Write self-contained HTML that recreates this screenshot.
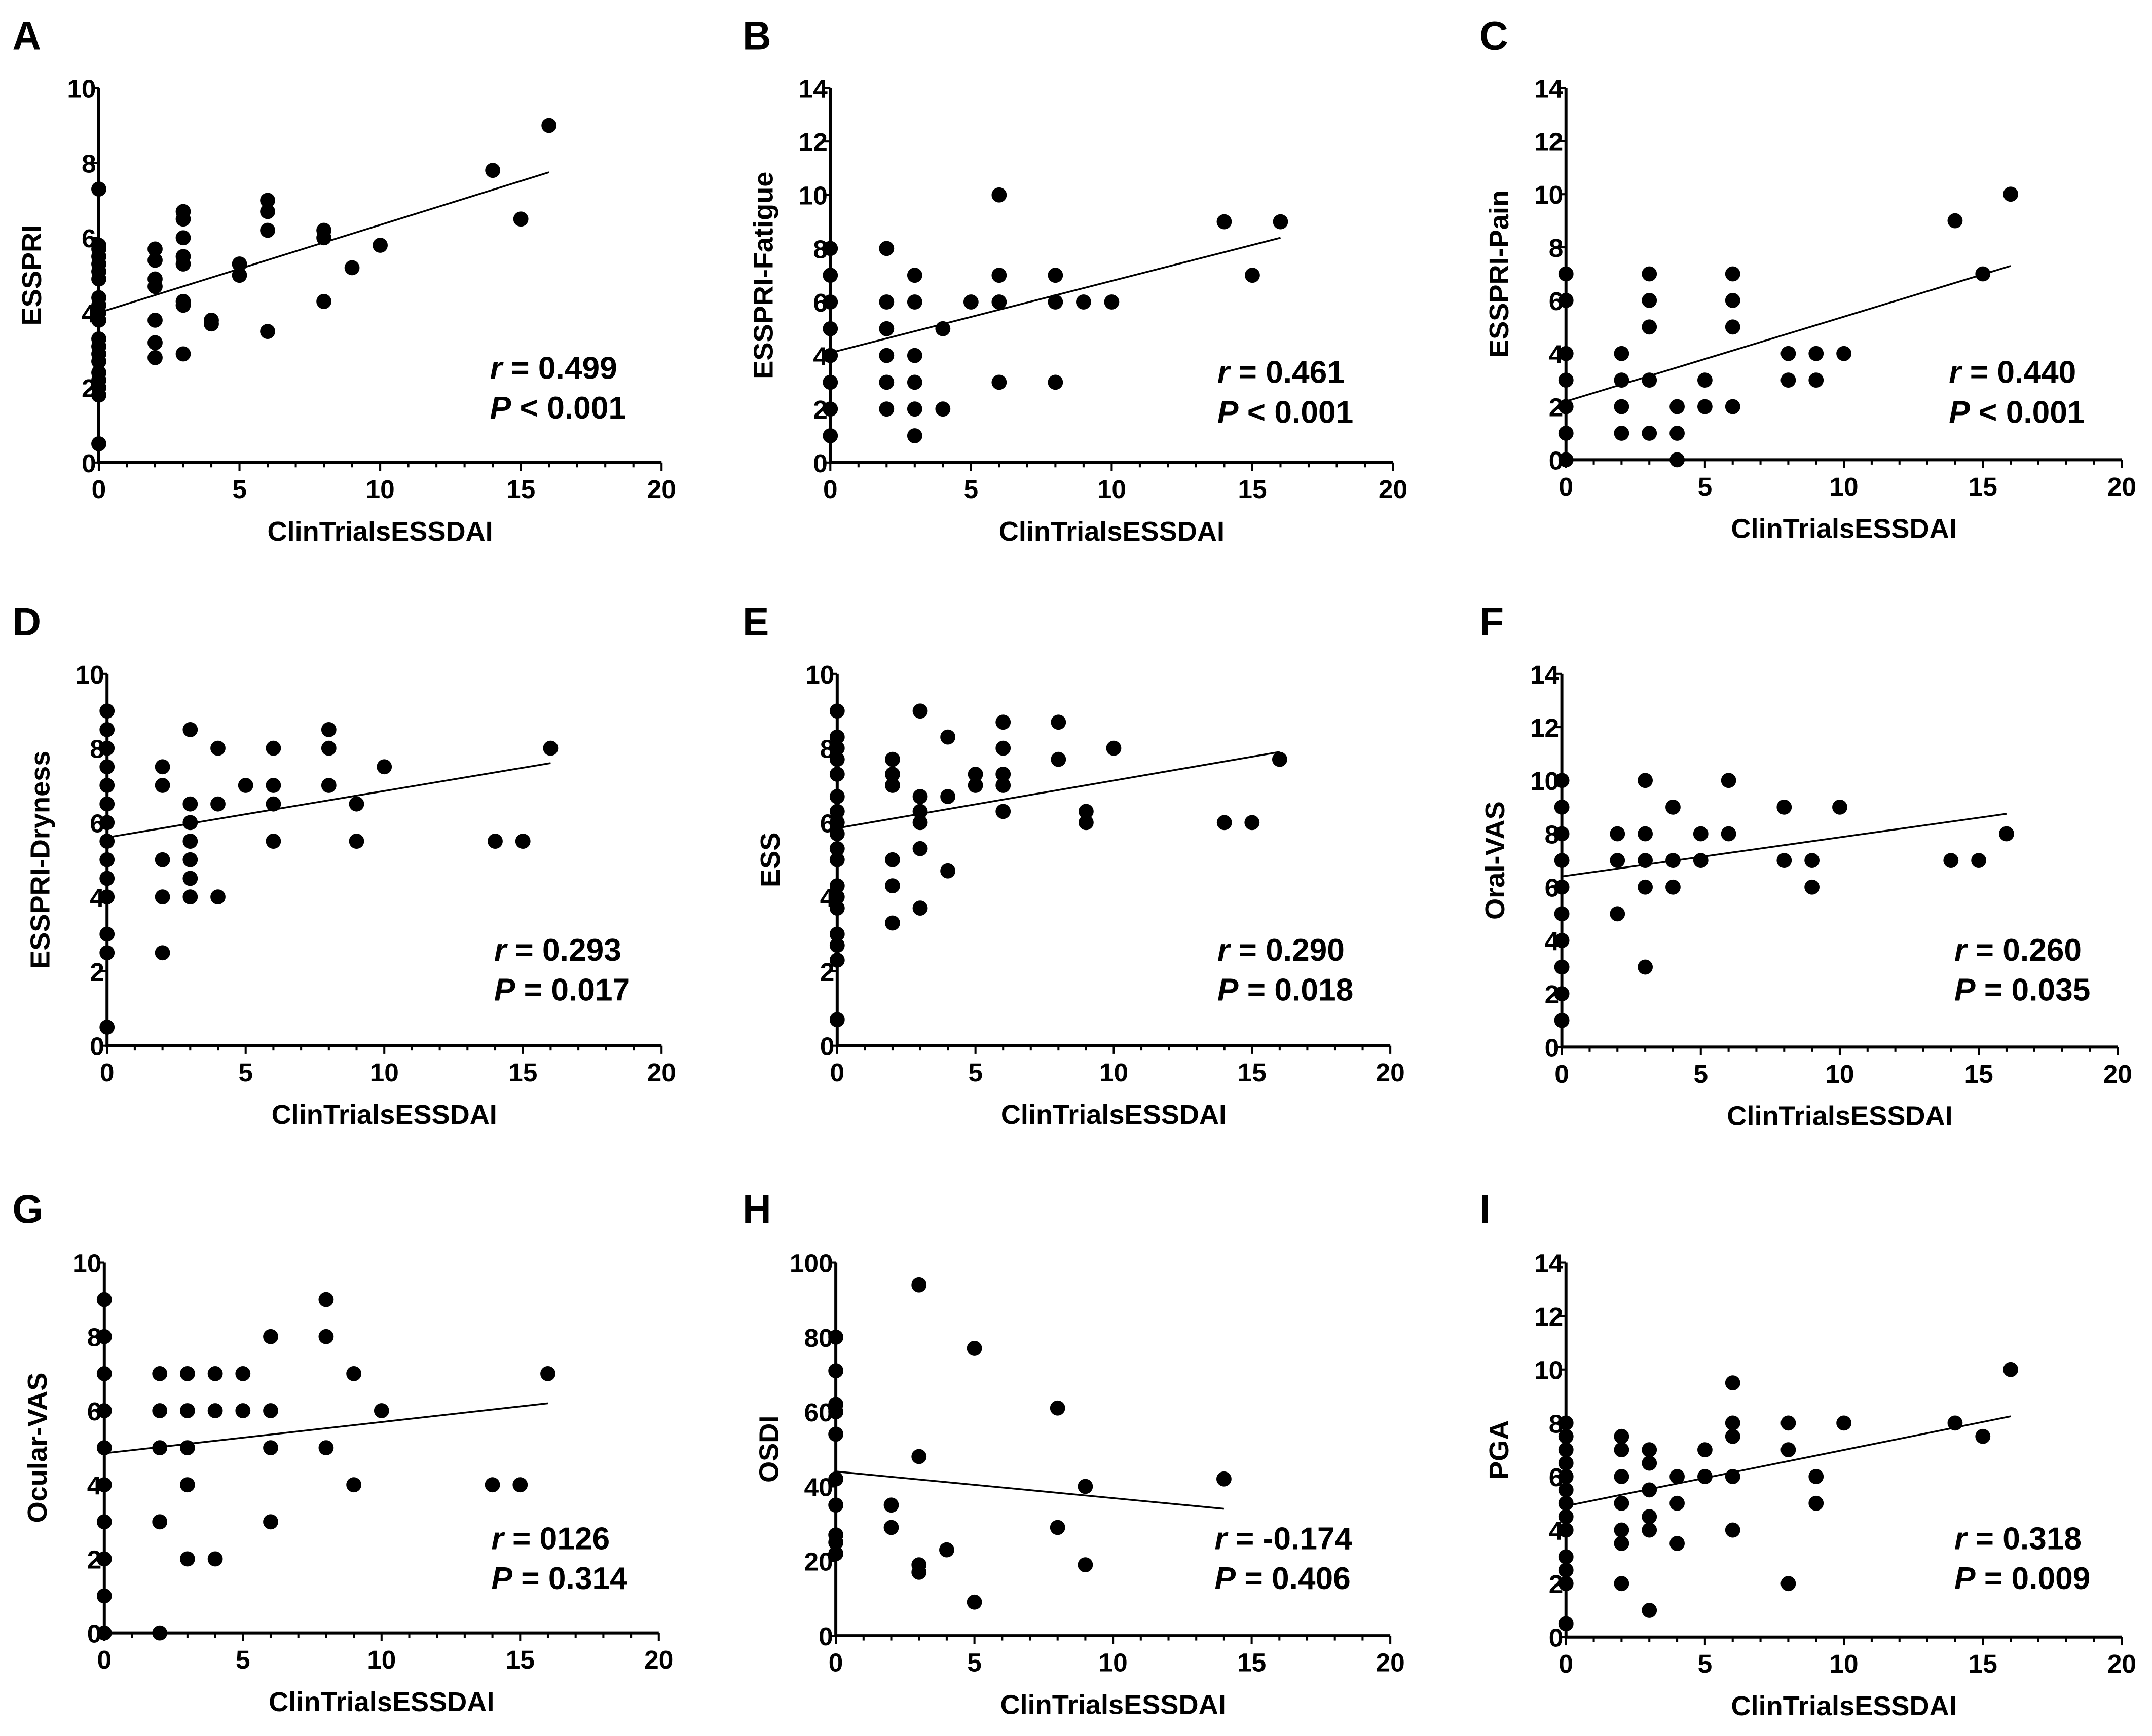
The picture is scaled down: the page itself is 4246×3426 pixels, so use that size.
<!DOCTYPE html>
<html><head><meta charset="utf-8"><style>
html,body{margin:0;padding:0;background:#fff;}
svg{display:block;}
text{font-family:"Liberation Sans",Arial,sans-serif;font-weight:bold;fill:#000;}
</style></head><body>
<svg id="fig" xmlns="http://www.w3.org/2000/svg" width="4246" height="3426" viewBox="0 0 1568 1265"></svg>
<script>
// ---- data arrays (x = ClinTrialsESSDAI) ----
const xTickLabels = [0,5,10,15,20];
const aX=[0,0,0,0,0,0,0,0,0,0,0,0,0,0,0,0,0,0,0,0,2,2,2,2,2,2,2,3,3,3,3,3,3,3,3,4,4,5,5,6,6,6,6,8,8,8,9,10,14,15,16];
const aY=[7.3,5.8,5.7,5.5,5.3,5.1,4.9,4.4,4.2,4.0,3.8,3.3,3.1,2.9,2.7,2.4,2.2,2.0,1.8,0.5,5.7,5.4,4.9,4.7,3.8,3.2,2.8,6.7,6.5,6.0,5.5,5.3,4.3,4.2,2.9,3.8,3.7,5.3,5.0,7.0,6.7,6.2,3.5,6.2,6.0,4.3,5.2,5.8,7.8,6.5,9.0];
const bX=[0,0,0,0,0,0,0,0,2,2,2,2,2,2,3,3,3,3,3,3,4,4,5,6,6,6,6,8,8,8,9,10,14,15,16];
const bY=[8,7,6,5,4,3,2,1,8,6,5,4,3,2,7,6,4,3,2,1,5,2,6,10,7,6,3,7,6,3,6,6,9,7,9];
const cX=[0,0,0,0,0,0,0,2,2,2,2,3,3,3,3,3,4,4,4,5,5,6,6,6,6,8,8,9,9,10,14,15,16];
const cY=[7,6,4,3,2,1,0,4,3,2,1,7,6,5,3,1,2,1,0,3,2,7,6,5,2,4,3,4,3,4,9,7,10];
const dX=[0,0,0,0,0,0,0,0,0,0,0,0,0,0,2,2,2,2,2,3,3,3,3,3,3,3,4,4,4,5,6,6,6,6,8,8,8,9,9,10,14,15,16];
const dY=[9,8.5,8,7.5,7,6.5,6,5.5,5,4.5,4,3,2.5,0.5,7.5,7,5,4,2.5,8.5,6.5,6,5.5,5,4.5,4,8,6.5,4,7,8,7,6.5,5.5,8.5,8,7,6.5,5.5,7.5,5.5,5.5,8];
const eX=[0,0,0,0,0,0,0,0,0,0,0,0,0,0,0,0,0,0,2,2,2,2,2,2,3,3,3,3,3,3,4,4,4,5,5,6,6,6,6,6,8,8,9,9,10,14,15,16];
const eY=[9,8.3,8,7.7,7.3,6.7,6.3,6,5.7,5.3,5,4.3,4,3.7,3,2.7,2.3,0.7,7.7,7.3,7,5,4.3,3.3,9,6.7,6.3,6,5.3,3.7,8.3,6.7,4.7,7.3,7,8.7,8,7.3,7,6.3,8.7,7.7,6.3,6,8,6,6,7.7];
const fX=[0,0,0,0,0,0,0,0,0,0,2,2,2,3,3,3,3,3,4,4,4,5,5,6,6,8,8,9,9,10,14,15,16];
const fY=[10,9,8,7,6,5,4,3,2,1,8,7,5,10,8,7,6,3,9,7,6,8,7,10,8,9,7,7,6,9,7,7,8];
const gX=[0,0,0,0,0,0,0,0,0,0,2,2,2,2,2,3,3,3,3,3,4,4,4,5,5,6,6,6,6,8,8,8,9,9,10,14,15,16];
const gY=[9,8,7,6,5,4,3,2,1,0,7,6,5,3,0,7,6,5,4,2,7,6,2,7,6,8,6,5,3,9,8,5,7,4,6,4,4,7];
const hX=[0,0,0,0,0,0,0,0,0,0,2,2,3,3,3,3,4,5,5,8,8,9,9,14];
const hY=[80,71,62,60,54,42,35,27,25,22,35,29,94,48,19,17,23,77,9,61,29,40,19,42];
const iX=[0,0,0,0,0,0,0,0,0,0,0,0,0,2,2,2,2,2,2,2,3,3,3,3,3,3,4,4,4,5,5,6,6,6,6,6,8,8,8,9,9,10,14,15,16];
const iY=[8,7.5,7,6.5,6,5.5,5,4.5,4,3,2.5,2,0.5,7.5,7,6,5,4,3.5,2,7,6.5,5.5,4.5,4,1,6,5,3.5,7,6,9.5,8,7.5,6,4,8,7,2,6,5,8,8,7.5,10];
const fitStart=[4.0,4.1,2.2,5.6,5.85,6.4,4.85,44,4.9];
const fitEnd=[7.75,8.4,7.3,7.6,7.9,8.75,6.2,34,8.25];
const fitEndX=[16,16,16,16,16,16,16,14,16];
const rLabels=["0.499","0.461","0.440","0.293","0.290","0.260","0126","-0.174","0.318"];
const pLabels=["< 0.001","< 0.001","< 0.001","= 0.017","= 0.018","= 0.035","= 0.314","= 0.406","= 0.009"];
const yTitles=["ESSPRI","ESSPRI-Fatigue","ESSPRI-Pain","ESSPRI-Dryness","ESS","Oral-VAS","Ocular-VAS","OSDI","PGA"];
const yMaxes=[10,14,14,10,10,14,10,100,14];
const yStepsArr=[2,2,2,2,2,2,2,20,2];
const letters=["A","B","C","D","E","F","G","H","I"];
const seriesX=[aX,bX,cX,dX,eX,fX,gX,hX,iX];
const seriesY=[aY,bY,cY,dY,eY,fY,gY,hY,iY];

// ---- layout (pixel geometry, not data) ----
const L=[
 {x0:72,x1:482,y0:337,y1:64,lx:9,ly:36,ax:357,ay:276},
 {x0:605,x1:1015,y0:337,y1:64,lx:541,ly:36,ax:887,ay:279},
 {x0:1141,x1:1546,y0:335,y1:64,lx:1078,ly:36,ax:1420,ay:279},
 {x0:78,x1:482,y0:762,y1:491,lx:9,ly:463,ax:360,ay:700},
 {x0:610,x1:1013,y0:762,y1:491,lx:541,ly:463,ax:887,ay:700},
 {x0:1138,x1:1543,y0:763,y1:491,lx:1078,ly:463,ax:1424,ay:700},
 {x0:76,x1:480,y0:1190,y1:920,lx:9,ly:891,ax:358,ay:1129},
 {x0:609,x1:1013,y0:1192,y1:920,lx:541,ly:891,ax:885,ay:1129},
 {x0:1141,x1:1546,y0:1193,y1:920,lx:1078,ly:891,ax:1424,ay:1129}
];
const NS="http://www.w3.org/2000/svg";
const svg=document.getElementById('fig');
function mk(tag,attrs,parent){const e=document.createElementNS(NS,tag);for(const k in attrs)e.setAttribute(k,attrs[k]);parent.appendChild(e);return e;}

for(let p=0;p<9;p++){
  const g=L[p];
  const sx=v=>g.x0+(g.x1-g.x0)*v/20;
  const sy=v=>g.y0-(g.y0-g.y1)*v/yMaxes[p];
  const grp=mk('g',{},svg);
  
  
  const lt=mk('text',{x:g.lx,y:g.ly,'font-size':29},grp);lt.textContent=letters[p];
  
  
  const xa=mk('line',{x1:g.x0,y1:g.y0,x2:g.x1,y2:g.y0,stroke:'#000','stroke-width':2.2},grp);
  
  
  const ya=mk('line',{x1:g.x0,y1:g.y0+1,x2:g.x0,y2:g.y1,stroke:'#000','stroke-width':2.2},grp);
  
  
  for(let v=0;v<=20;v++){
    const major=v%5===0;
    mk('line',{x1:sx(v),y1:g.y0,x2:sx(v),y2:g.y0+(major?6:3.5),stroke:'#000','stroke-width':1.5},grp);
  }
  xTickLabels.forEach(v=>{
    const t=mk('text',{x:sx(v),y:g.y0+26,'font-size':19,'text-anchor':'middle'},grp);t.textContent=v;
    
    
  });
  for(let v=0;v<=yMaxes[p];v+=yStepsArr[p]){
    mk('line',{x1:g.x0-5,y1:sy(v),x2:g.x0,y2:sy(v),stroke:'#000','stroke-width':1.5},grp);
    const t=mk('text',{x:g.x0-2,y:sy(v)+7,'font-size':19,'text-anchor':'end'},grp);t.textContent=v;
    
    
  }
  const xt=mk('text',{x:(g.x0+g.x1)/2,y:g.y0+57,'font-size':20,'text-anchor':'middle'},grp);xt.textContent='ClinTrialsESSDAI';
  
  
  const cy=(g.y0+g.y1)/2, cx=g.x0-42;
  const yt=mk('text',{x:cx,y:cy,'font-size':20,'text-anchor':'middle',transform:`rotate(-90 ${cx} ${cy})`},grp);yt.textContent=yTitles[p];
  
  
  const fl=mk('line',{x1:sx(0),y1:sy(fitStart[p]),x2:sx(fitEndX[p]),y2:sy(fitEnd[p]),stroke:'#000','stroke-width':1.3},grp);
  
  
  const xs=seriesX[p], ys=seriesY[p];
  for(let i=0;i<xs.length;i++){
    const c=mk('circle',{cx:sx(xs[i]),cy:sy(ys[i]),r:5.5,fill:'#000'},grp);
    
    
  }
  const r=mk('text',{x:g.ax,y:g.ay,'font-size':23},grp);
  r.innerHTML='<tspan font-style="italic">r</tspan> = '+rLabels[p];
  
  
  const pt=mk('text',{x:g.ax,y:g.ay+29,'font-size':23},grp);
  pt.innerHTML='<tspan font-style="italic">P</tspan> '+pLabels[p];
  
  
}
</script>
</body></html>
